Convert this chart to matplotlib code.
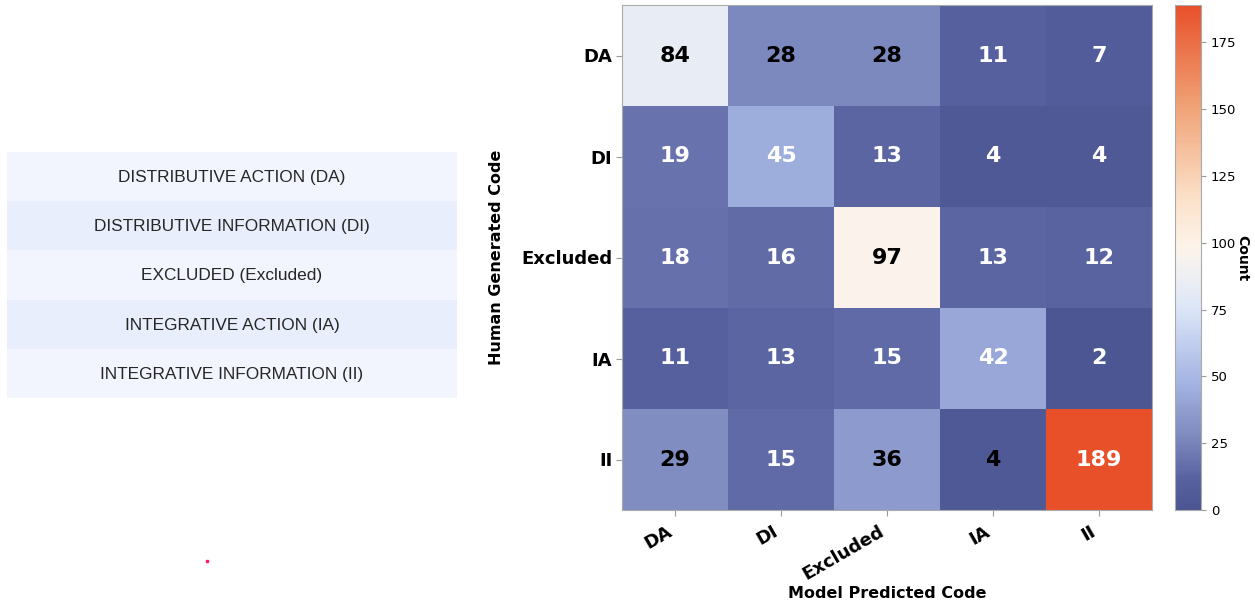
import matplotlib.pyplot as plt
import numpy as np
from matplotlib.colors import LinearSegmentedColormap
from matplotlib.lines import Line2D

codes = ['DA', 'DI', 'Excluded', 'IA', 'II']
code_names = ['DISTRIBUTIVE ACTION (DA)', 'DISTRIBUTIVE INFORMATION (DI)',
              'EXCLUDED (Excluded)', 'INTEGRATIVE ACTION (IA)',
              'INTEGRATIVE INFORMATION (II)']

# rows: human code, columns: model prediction
counts = np.array([
    [84, 28, 28, 11, 7],
    [19, 45, 13, 4, 4],
    [18, 16, 97, 13, 12],
    [11, 13, 15, 42, 2],
    [29, 15, 36, 4, 189],
])

# cells whose count is printed in black
dark_text = np.array([
    [1, 1, 1, 0, 0],
    [0, 0, 0, 0, 0],
    [0, 0, 1, 0, 0],
    [0, 0, 0, 0, 0],
    [1, 0, 1, 1, 0],
], dtype=bool)

cmap = LinearSegmentedColormap.from_list('bluecream', [
    (0.00, '#4b5592'),
    (0.06, '#5862a0'),
    (0.15, '#7f8cc0'),
    (0.25, '#a3b3e2'),
    (0.40, '#dce6f8'),
    (0.47, '#f0f0f2'),
    (0.52, '#fdf4ea'),
    (0.62, '#fbe0c8'),
    (0.80, '#f0a276'),
    (1.00, '#e8502a'),
])

fig = plt.figure(figsize=(12.55, 6.06), dpi=100)

# legend table of code names
tab = fig.add_axes([7/1255, 1 - 398/606, 450/1255, 246/606])
tab.set_xlim(0, 1)
tab.set_ylim(len(code_names), 0)
tab.axis('off')
for i, name in enumerate(code_names):
    tab.axhspan(i, i + 1, color='#f2f5fd' if i % 2 == 0 else '#e8eefc', lw=0)
    tab.text(0.5, i + 0.52, name, ha='center', va='center', fontsize=12.4,
             color='#262626', family='Liberation Sans')

ax = fig.add_axes([622/1255, 1 - 510/606, 530/1255, 505/606])
im = ax.imshow(counts, cmap=cmap, vmin=0, vmax=counts.max(), aspect='auto')
for i in range(len(codes)):
    for j in range(len(codes)):
        ax.text(j, i, str(counts[i, j]), ha='center', va='center',
                fontsize=16, fontweight='bold',
                color='black' if dark_text[i, j] else 'white')

ax.set_xticks(range(len(codes)))
ax.set_yticks(range(len(codes)))
ax.set_xticklabels(codes, rotation=30, ha='right', fontsize=13, fontweight='bold')
ax.set_yticklabels(codes, fontsize=13, fontweight='bold')
ax.tick_params(length=4, color='#999999', pad=3)
ax.tick_params(axis='x', pad=5)
for s in ax.spines.values():
    s.set_color('#aaaaaa')
    s.set_linewidth(0.8)
ax.set_ylabel('Human Generated Code', fontsize=11.5, fontweight='bold', labelpad=12)
fig.text(887/1255, 1 - 594/606, 'Model Predicted Code', ha='center', va='center',
         fontsize=11.5, fontweight='bold')

cax = fig.add_axes([1175/1255, 1 - 510/606, 26/1255, 505/606])
cb = fig.colorbar(im, cax=cax)
cb.set_ticks(np.arange(0, 176, 25))
cb.ax.tick_params(labelsize=9.5, color='#999999')
cb.outline.set_edgecolor('#aaaaaa')
fig.text(1242/1255, 1 - 258/606, 'Count', rotation=270, ha='center', va='center',
         fontsize=10, fontweight='bold')

fig.add_artist(Line2D([207/1255], [1 - 561/606], marker='s', markersize=1.6,
                      color='#ff1a6e', lw=0))

fig.savefig('out.png', dpi=100)
